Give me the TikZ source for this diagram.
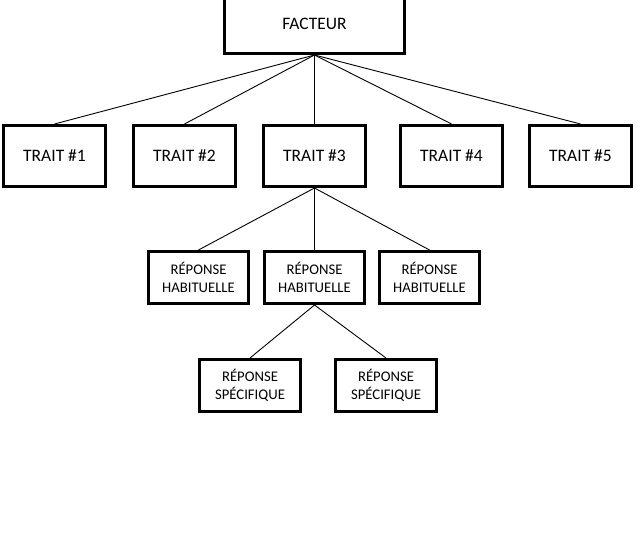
\documentclass[tikz,border=0pt]{standalone}
\usepackage{fontspec}
\setmainfont{Carlito}
\usetikzlibrary{positioning}

\begin{document}
\begin{tikzpicture}[
  font=\fontsize{17.5}{21}\selectfont, node distance=25pt,
  box/.style={draw, line width=3pt, inner sep=0pt, align=center},
  fac/.style={box, minimum width=180pt, minimum height=59pt},
  tr/.style={box, minimum width=102pt, minimum height=61pt},
  rep/.style={box, minimum width=100pt, minimum height=52pt, font=\fontsize{14.7}{18}\selectfont},
  ln/.style={line width=0.9pt}
]
\useasboundingbox (0pt,0pt) rectangle (640pt,-548pt);
\node[fac] at (314.5pt,-24pt) (facteur) {FACTEUR};
% traits
\node[tr, below=69pt of facteur] (t3) {TRAIT \#3};
\node[tr, left=of t3] (t2) {TRAIT \#2};
\node[tr, left=of t2] (t1) {TRAIT \#1};
\node[tr, right=32pt of t3] (t4) {TRAIT \#4};
\node[tr, right=24pt of t4] (t5) {TRAIT \#5};
% reponses habituelles
\node[rep, below=62pt of t3] (h2) {RÉPONSE\\HABITUELLE};
\node[rep, left=13pt of h2] (h1) {RÉPONSE\\HABITUELLE};
\node[rep, right=12pt of h2] (h3) {RÉPONSE\\HABITUELLE};
% reponses specifiques
\node[rep, minimum width=101pt, below=53pt of h2, xshift=-64.5pt] (s1) {RÉPONSE\\SPÉCIFIQUE};
\node[rep, minimum width=101pt, below=53pt of h2, xshift=71.5pt] (s2) {RÉPONSE\\SPÉCIFIQUE};
\foreach \t in {t1,t2,t3,t4,t5} \draw[ln] (facteur.south) -- (\t.north);
\foreach \h in {h1,h2,h3} \draw[ln] (t3.south) -- (\h.north);
\draw[ln] (h2.south) -- (s1.north); \draw[ln] (h2.south) -- (s2.north);
\end{tikzpicture}
\end{document}
